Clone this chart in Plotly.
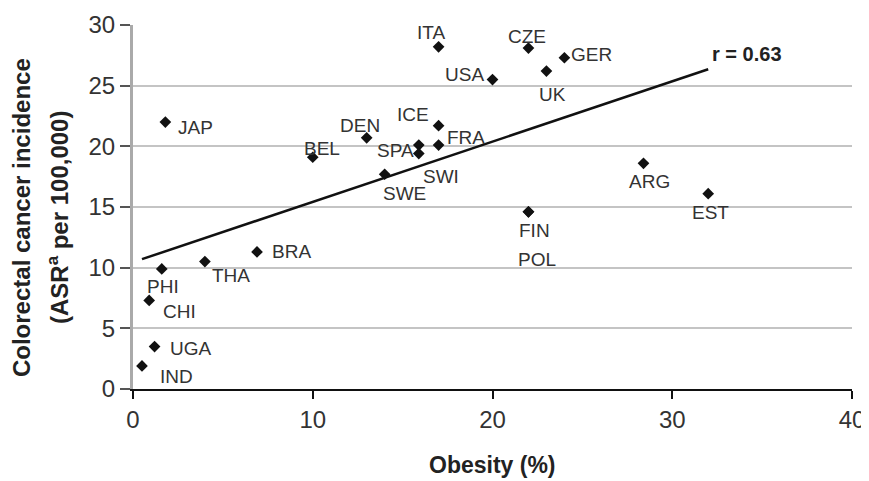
import plotly.graph_objects as go

# ---- data ----
countries = ["ITA", "CZE", "GER", "USA", "UK", "ICE", "FRA", "DEN", "BEL", "SPA", "SWI", "SWE",
             "FIN", "POL", "ARG", "EST", "JAP", "BRA", "THA", "PHI", "CHI", "UGA", "IND"]
obesity = [17.0, 22.0, 24.0, 20.0, 23.0, 17.0, 17.0, 13.0, 10.0, 15.9, 15.9, 14.0,
           22.0, 22.0, 28.4, 32.0, 1.8, 6.9, 4.0, 1.6, 0.9, 1.2, 0.5]
incidence = [28.2, 28.1, 27.3, 25.5, 26.2, 21.7, 20.1, 20.7, 19.1, 20.1, 19.4, 17.7,
             14.6, 14.6, 18.6, 16.1, 22.0, 11.3, 10.5, 9.9, 7.3, 3.5, 1.9]

trend_x = [0.5, 32.0]
trend_y = [10.7, 26.35]
r_label = "r = 0.63"

x_ticks = [0, 10, 20, 30, 40]
y_ticks = [0, 5, 10, 15, 20, 25, 30]

# ---- label placement (style only) : xanchor, xshift, yshift in px ----
label_pos = {
    "ITA": ("center", -8, 14), "CZE": ("center", -1, 12), "GER": ("left", 5, 3),
    "USA": ("right", -7, 5), "UK": ("center", 6, -23), "ICE": ("center", -26, 11),
    "FRA": ("left", 6, 8), "DEN": ("center", -7, 12), "BEL": ("center", 9, 9),
    "SPA": ("right", -3, -5), "SWI": ("left", 2, -23), "SWE": ("center", 20, -19),
    "FIN": ("center", 6, -19), "POL": ("center", 9, -48), "ARG": ("center", 6, -18),
    "EST": ("center", 2, -19), "JAP": ("left", 11, -5), "BRA": ("left", 13, 0),
    "THA": ("left", 5, -14), "PHI": ("left", -17, -18), "CHI": ("left", 12, -11),
    "UGA": ("left", 13, -2), "IND": ("left", 16, -11),
}

FONT = "Liberation Sans, Arial, Helvetica, sans-serif"
TXT = "#333333"

fig = go.Figure()
fig.add_trace(go.Scatter(x=trend_x, y=trend_y, mode="lines",
                         line=dict(color="#111111", width=2.5), hoverinfo="skip",
                         showlegend=False))
fig.add_trace(go.Scatter(x=obesity, y=incidence, mode="markers", text=countries,
                         marker=dict(symbol="diamond", size=9, color="#111111"),
                         cliponaxis=False, showlegend=False))

annotations = []
for c, xv, yv in zip(countries, obesity, incidence):
    anc, xs, ys = label_pos[c]
    annotations.append(dict(x=xv, y=yv, xref="x", yref="y", text=c, showarrow=False,
                            xanchor=anc, yanchor="middle", xshift=xs, yshift=ys,
                            font=dict(family=FONT, size=19, color=TXT)))
annotations.append(dict(x=trend_x[-1], y=trend_y[-1], xref="x", yref="y",
                        text="<b>" + r_label + "</b>", showarrow=False,
                        xanchor="left", yanchor="middle", xshift=2, yshift=15,
                        font=dict(family=FONT, size=20, color="#222222")))
# axis titles
annotations.append(dict(x=0.5, y=0.0, xref="paper", yref="paper",
                        text="<b>Obesity (%)</b>", showarrow=False,
                        xanchor="center", yanchor="middle", yshift=-76,
                        font=dict(family=FONT, size=23, color="#222222")))
annotations.append(dict(x=-0.1542, y=0.47, xref="paper", yref="paper",
                        text="<b>Colorectal cancer incidence</b>", showarrow=False,
                        textangle=-90, xanchor="center", yanchor="middle",
                        font=dict(family=FONT, size=24, color="#222222")))
annotations.append(dict(x=-0.1042, y=0.47, xref="paper", yref="paper",
                        text="<b>(ASR<sup>a</sup> per 100,000)</b>", showarrow=False,
                        textangle=-90, xanchor="center", yanchor="middle",
                        font=dict(family=FONT, size=24, color="#222222")))

fig.update_layout(
    width=861, height=473,
    margin=dict(l=124.5, r=16.5, t=17, b=92),
    paper_bgcolor="white", plot_bgcolor="white",
    font=dict(family=FONT, color=TXT),
    annotations=annotations,
    xaxis=dict(range=[0, 40], tickvals=x_ticks, showgrid=False, zeroline=False,
               automargin=False, ticklabeloverflow="allow",
               showline=True, linecolor="#111111", linewidth=2,
               ticks="outside", ticklen=8, tickwidth=2, tickcolor="#111111",
               tickfont=dict(family=FONT, size=24, color=TXT)),
    yaxis=dict(range=[0, 30], tickvals=y_ticks, showgrid=True, gridcolor="#c4c4c4",
               automargin=False, ticklabeloverflow="allow",
               gridwidth=2, zeroline=False, showline=True, linecolor="#aaaaaa",
               linewidth=3, ticks="outside", ticklen=10, tickwidth=2,
               tickcolor="#555555",
               tickfont=dict(family=FONT, size=24, color=TXT)),
)

fig.write_html("out.html")
